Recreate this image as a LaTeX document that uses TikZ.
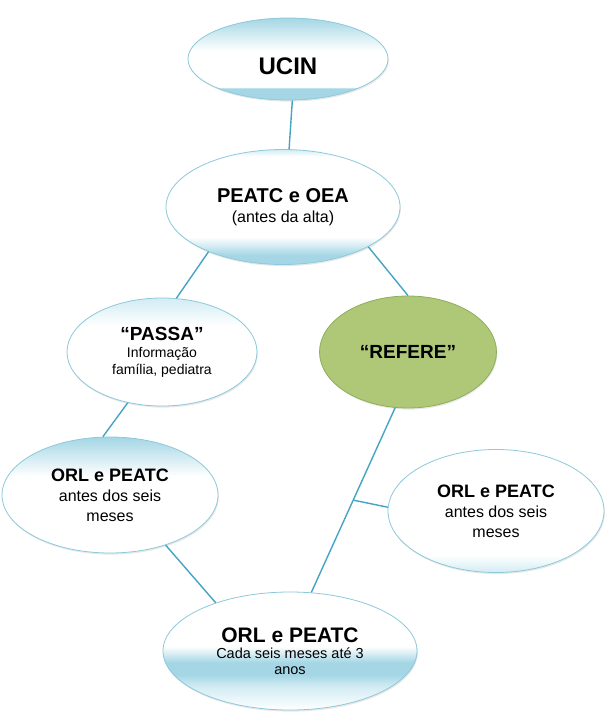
\documentclass[tikz,border=0pt]{standalone}
\usepackage{fontspec}
\setmainfont{Liberation Sans}
\usetikzlibrary{shapes.geometric,shadows}

\definecolor{linkblue}{HTML}{45A3C3}
\definecolor{rimblue}{HTML}{8DC9DA}
\definecolor{softblue}{HTML}{A4D6E5}
\definecolor{paleblue}{HTML}{D2ECF3}
\definecolor{leafgreen}{HTML}{AEC877}
\definecolor{rimgreen}{HTML}{8DAE5A}

% top and bottom bands of the blue bubbles
\pgfdeclareverticalshading{ucinshade}{100bp}{color(0bp)=(softblue); color(25bp)=(softblue); color(32bp)=(softblue); color(33bp)=(white); color(55bp)=(white); color(75bp)=(softblue); color(100bp)=(softblue)}
\pgfdeclareverticalshading{peatcshade}{100bp}{color(0bp)=(softblue); color(25bp)=(softblue); color(29bp)=(softblue); color(37bp)=(white); color(72bp)=(white); color(75bp)=(paleblue); color(100bp)=(paleblue)}
\pgfdeclareverticalshading{passashade}{100bp}{color(0bp)=(white); color(62bp)=(white); color(75bp)=(paleblue); color(100bp)=(paleblue)}
\pgfdeclareverticalshading{orlshade}{100bp}{color(0bp)=(white); color(58bp)=(white); color(75bp)=(softblue); color(100bp)=(softblue)}
\pgfdeclareverticalshading{plainshade}{100bp}{color(0bp)=(paleblue); color(25bp)=(paleblue); color(32bp)=(white); color(100bp)=(white)}
\pgfdeclareverticalshading{lastshade}{100bp}{color(0bp)=(white); color(25bp)=(white); color(35bp)=(paleblue); color(40bp)=(softblue); color(45bp)=(softblue); color(52bp)=(white); color(100bp)=(white)}

\begin{document}
\begin{tikzpicture}[x=10pt,y=10pt]
\tikzstyle{every node}+=[inner sep=0pt]
\tikzstyle{bubble}=[ellipse, draw=rimblue, line width=0.8pt, align=center,
  font=\fontsize{16}{20}\selectfont,
  drop shadow={opacity=0.18, shadow xshift=0.8pt, shadow yshift=-1.6pt}]
\tikzstyle{link}=[draw=linkblue, line width=1.4pt]
\useasboundingbox (0,0) rectangle (60.6,-71.5);

\node [bubble, shading=ucinshade, minimum width=200pt, minimum height=82pt,
  text height=30pt, text depth=0pt] (ucin) at (28.8,-5.9)
  {\fontsize{24}{28}\selectfont\bfseries UCIN};
\node [bubble, shading=peatcshade, minimum width=234pt, minimum height=115pt] (peatc) at (28.3,-20.7)
  {{\fontsize{20}{24}\selectfont\bfseries PEATC e OEA}\\(antes da alta)};
\node [bubble, shading=passashade, minimum width=190pt, minimum height=108pt,
  font=\fontsize{14}{17}\selectfont] (passa) at (16.2,-35.2)
  {{\fontsize{19}{22}\selectfont\bfseries “PASSA”}\\Informação\\família, pediatra};
\node [bubble, fill=leafgreen, draw=rimgreen, minimum width=177pt, minimum height=112pt] (refere) at (40.8,-35.2)
  {\fontsize{19}{22}\selectfont\bfseries “REFERE”};
\node [bubble, shading=orlshade, minimum width=216pt, minimum height=116pt] (orlA) at (11.0,-49.5)
  {{\fontsize{18}{20}\selectfont\bfseries ORL e PEATC}\\antes dos seis\\meses};
\node [bubble, shading=plainshade, minimum width=216pt, minimum height=123pt] (orlB) at (49.6,-51.1)
  {{\fontsize{18}{20}\selectfont\bfseries ORL e PEATC}\\antes dos seis\\meses};
\node [bubble, shading=lastshade, minimum width=254pt, minimum height=118pt,
  font=\fontsize{14.5}{16}\selectfont] (orlC) at (29.0,-65.1)
  {{\fontsize{21}{24}\selectfont\bfseries ORL e PEATC}\\Cada seis meses até 3\\anos};

\draw [link] (ucin.276) -- (peatc.84);
\draw [link] (peatc.211) -- (passa.75);
\draw [link] (peatc.335) -- (refere.90);
\draw [link] (passa.236) -- (orlA.97);
\draw [link] (orlA.318) -- (orlC.147);
\draw [link] (refere.257) -- (orlC.70) coordinate [pos=0.5] (fork);
\draw [link] (fork) -- (orlB.178);
\end{tikzpicture}
\end{document}
